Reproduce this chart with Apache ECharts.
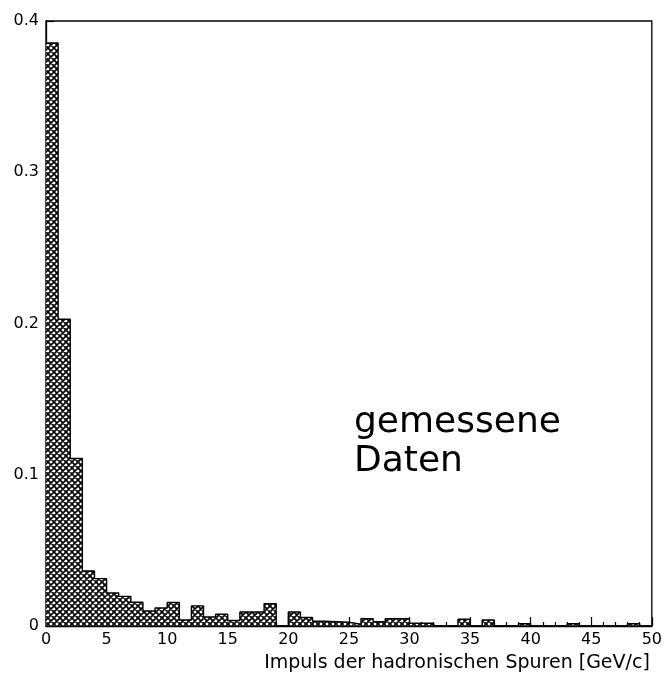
<!DOCTYPE html>
<html>
<head>
<meta charset="utf-8">
<script src="https://cdn.jsdelivr.net/npm/echarts@6/dist/echarts.min.js"></script>
<style>html,body{margin:0;padding:0;background:#fff;}#c{width:665px;height:679px;}</style>
</head>
<body>
<div id="c"></div>
<script>
// Bin lower edges (GeV/c), width 1
const binEdges = [0,1,2,3,4,5,6,7,8,9,10,11,12,13,14,15,16,17,18,19,20,21,22,23,24,25,26,27,28,29,30,31,32,33,34,35,36,37,38,39,40,41,42,43,44,45,46,47,48,49];
const binWidth = 1;
// Normalised counts per bin
const counts = [0.3855,0.2028,0.1107,0.0364,0.0313,0.0218,0.0196,0.0157,0.0099,0.0119,
                0.0155,0.0040,0.0133,0.0060,0.0078,0.0036,0.0093,0.0093,0.0148,0.0000,
                0.0093,0.0056,0.0031,0.0028,0.0025,0.0012,0.0049,0.0028,0.0049,0.0049,
                0.0018,0.0018,0.0000,0.0000,0.0045,0.0000,0.0040,0.0000,0.0000,0.0015,
                0.0000,0.0000,0.0000,0.0015,0.0000,0.0000,0.0000,0.0000,0.0015,0.0000];
const xTicks = [0,5,10,15,20,25,30,35,40,45,50];
const yTicks = [0,0.1,0.2,0.3,0.4];
const xTitle = 'Impuls der hadronischen Spuren [GeV/c]';
const noteLines = ['gemessene','Daten'];

// crosshatch pattern
const P = 6;
const pc = document.createElement('canvas');
pc.width = P; pc.height = P;
const g = pc.getContext('2d');
g.fillStyle = '#fff'; g.fillRect(0,0,P,P);
g.strokeStyle = '#000'; g.lineWidth = 1.65;
g.beginPath();
for (let k = -P; k <= P; k += P) {
  g.moveTo(k-1,-1); g.lineTo(k+P+1,P+1);
  g.moveTo(k+P+1,-1); g.lineTo(k-1,P+1);
}
g.stroke();

const data = binEdges.map((e,i)=>[e, e+binWidth, counts[i]]);
// outline of histogram (step line through bin edges)
const outline = binEdges.map((e,i)=>[e, counts[i]]);
outline.push([binEdges[binEdges.length-1]+binWidth, counts[counts.length-1]]);

const chart = echarts.init(document.getElementById('c'), null, {renderer:'canvas'});
const font = 'DejaVu Sans';
chart.setOption({
  animation:false,
  backgroundColor:'#fff',
  grid:{left:46,right:12,top:21,bottom:53,show:true,borderColor:'#000',borderWidth:1.3,backgroundColor:'transparent'},
  xAxis:{
    type:'value',min:xTicks[0],max:xTicks[xTicks.length-1],interval:5,
    axisLine:{show:true,onZero:false,lineStyle:{color:'#000',width:1.3}},
    axisTick:{show:true,inside:true,length:9,lineStyle:{color:'#000',width:1.2}},
    minorTick:{show:true,splitNumber:5,length:4,lineStyle:{color:'#000',width:1.2}},
    splitLine:{show:false},
    axisLabel:{color:'#000',fontFamily:font,fontSize:16,margin:6},
    name:xTitle,nameLocation:'end',nameGap:-2,
    nameTextStyle:{color:'#000',fontFamily:font,fontSize:19,align:'right',verticalAlign:'top',padding:[28,0,0,0]}
  },
  yAxis:{
    type:'value',min:yTicks[0],max:yTicks[yTicks.length-1],interval:0.1,
    axisLine:{show:true,lineStyle:{color:'#000',width:1.3}},
    axisTick:{show:true,inside:true,length:8,lineStyle:{color:'#000',width:1.2}},
    splitLine:{show:false},
    axisLabel:{color:'#000',fontFamily:font,fontSize:16,margin:7,formatter:v=>String(Math.round(v*10)/10)}
  },
  series:[{
    type:'custom',
    data:data,
    encode:{x:[0,1],y:2},
    renderItem:function(params,api){
      const x0 = api.value(0), x1 = api.value(1), y = api.value(2);
      if (y <= 0) return null;
      const p0 = api.coord([x0,y]);
      const p1 = api.coord([x1,0]);
      return {
        type:'rect',
        shape:{x:p0[0],y:p0[1],width:p1[0]-p0[0],height:p1[1]-p0[1]},
        style:{fill:{image:pc,repeat:'repeat'},stroke:null}
      };
    },
    z:1
  },{
    type:'line',
    data:outline,
    step:'end',
    symbol:'none',
    lineStyle:{color:'#000',width:1.4},
    z:2
  }],
  graphic:[{
    type:'text',left:354,top:403,z:10,
    style:{text:noteLines.join('\n'),font:'36px "DejaVu Sans"',fill:'#000',lineHeight:39}
  }]
});
</script>
</body>
</html>
